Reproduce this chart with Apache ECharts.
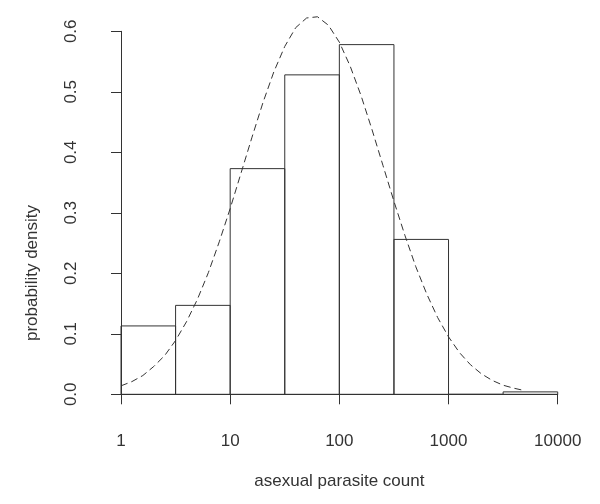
<!DOCTYPE html>
<html>
<head>
<meta charset="utf-8">
<script src="https://cdn.jsdelivr.net/npm/echarts@6/dist/echarts.min.js"></script>
<style>
  html, body { margin: 0; padding: 0; background: #fff; }
  #chart { width: 600px; height: 504px; }
</style>
</head>
<body>
<div id="chart"></div>
<script>
// histogram of log10(count), half-decade bins
const binStarts = [0, 0.5, 1, 1.5, 2, 2.5, 3, 3.5]
const binEnds = [0.5, 1, 1.5, 2, 2.5, 3, 3.5, 4]
const densities = [0.113, 0.147, 0.373, 0.528, 0.578, 0.256, 0, 0.004]

// dashed fitted curve
const curveX = [0, 0.1, 0.2, 0.3, 0.4, 0.5, 0.6, 0.7, 0.8, 0.9, 1, 1.1, 1.2, 1.3, 1.4, 1.5, 1.6, 1.7, 1.8,
  1.9, 2, 2.1, 2.2, 2.3, 2.4, 2.5, 2.6, 2.7, 2.8, 2.9, 3, 3.1, 3.2, 3.3, 3.4, 3.5, 3.6, 3.7]
const curveY = [0.014, 0.021, 0.031, 0.046, 0.064, 0.089, 0.12, 0.157, 0.201, 0.252, 0.307, 0.366, 0.425,
  0.482, 0.533, 0.575, 0.606, 0.622, 0.624, 0.61, 0.582, 0.542, 0.493, 0.437, 0.378, 0.319, 0.263, 0.211,
  0.166, 0.127, 0.095, 0.069, 0.049, 0.034, 0.023, 0.015, 0.01, 0.006]

const xTickLabels = ['1', '10', '100', '1000', '10000']

const ink = '#333'
const font = 'Liberation Sans, Arial, Helvetica, sans-serif'

const chart = echarts.init(document.getElementById('chart'))

chart.setOption({
  animation: false,
  grid: { left: 121, right: 42.3, top: 31.3, bottom: 109.7 },
  xAxis: {
    type: 'value',
    min: 0,
    max: 4,
    interval: 1,
    offset: 15,
    axisLine: { lineStyle: { color: ink, width: 1 } },
    axisTick: { length: 10, lineStyle: { color: ink } },
    axisLabel: {
      margin: 24,
      color: ink,
      fontSize: 17,
      fontFamily: font,
      formatter: v => xTickLabels[v]
    },
    splitLine: { show: false },
    name: 'asexual parasite count',
    nameLocation: 'middle',
    nameGap: 64,
    nameTextStyle: { color: ink, fontSize: 17, fontFamily: font }
  },
  yAxis: {
    type: 'value',
    min: 0,
    max: 0.6,
    interval: 0.1,
    offset: 17.5,
    axisLine: { show: true, lineStyle: { color: ink, width: 1 } },
    axisTick: { show: true, length: 10, lineStyle: { color: ink } },
    axisLabel: {
      margin: 24,
      rotate: 90,
      color: ink,
      fontSize: 17,
      fontFamily: font,
      formatter: v => v.toFixed(1)
    },
    splitLine: { show: false }
  },
  graphic: [{
    type: 'text',
    left: 24,
    top: 205,
    rotation: Math.PI / 2,
    style: {
      text: 'probability density',
      fill: ink,
      fontSize: 17,
      fontFamily: font,
      align: 'center',
      verticalAlign: 'middle'
    },
    x: 33,
    y: 205
  }],
  series: [
    {
      type: 'custom',
      data: densities.map((d, i) => [binStarts[i], binEnds[i], d]),
      renderItem: (params, api) => {
        const p0 = api.coord([api.value(0), api.value(2)])
        const p1 = api.coord([api.value(1), 0])
        return {
          type: 'rect',
          shape: { x: p0[0], y: p0[1], width: p1[0] - p0[0], height: p1[1] - p0[1] },
          style: { fill: 'none', stroke: ink, lineWidth: 1 }
        }
      },
      encode: { x: [0, 1], y: 2 },
      clip: false
    },
    {
      type: 'line',
      data: curveX.map((x, i) => [x, curveY[i]]),
      showSymbol: false,
      smooth: false,
      clip: false,
      lineStyle: { color: ink, width: 1, type: [7, 4] }
    }
  ]
})
</script>
</body>
</html>
